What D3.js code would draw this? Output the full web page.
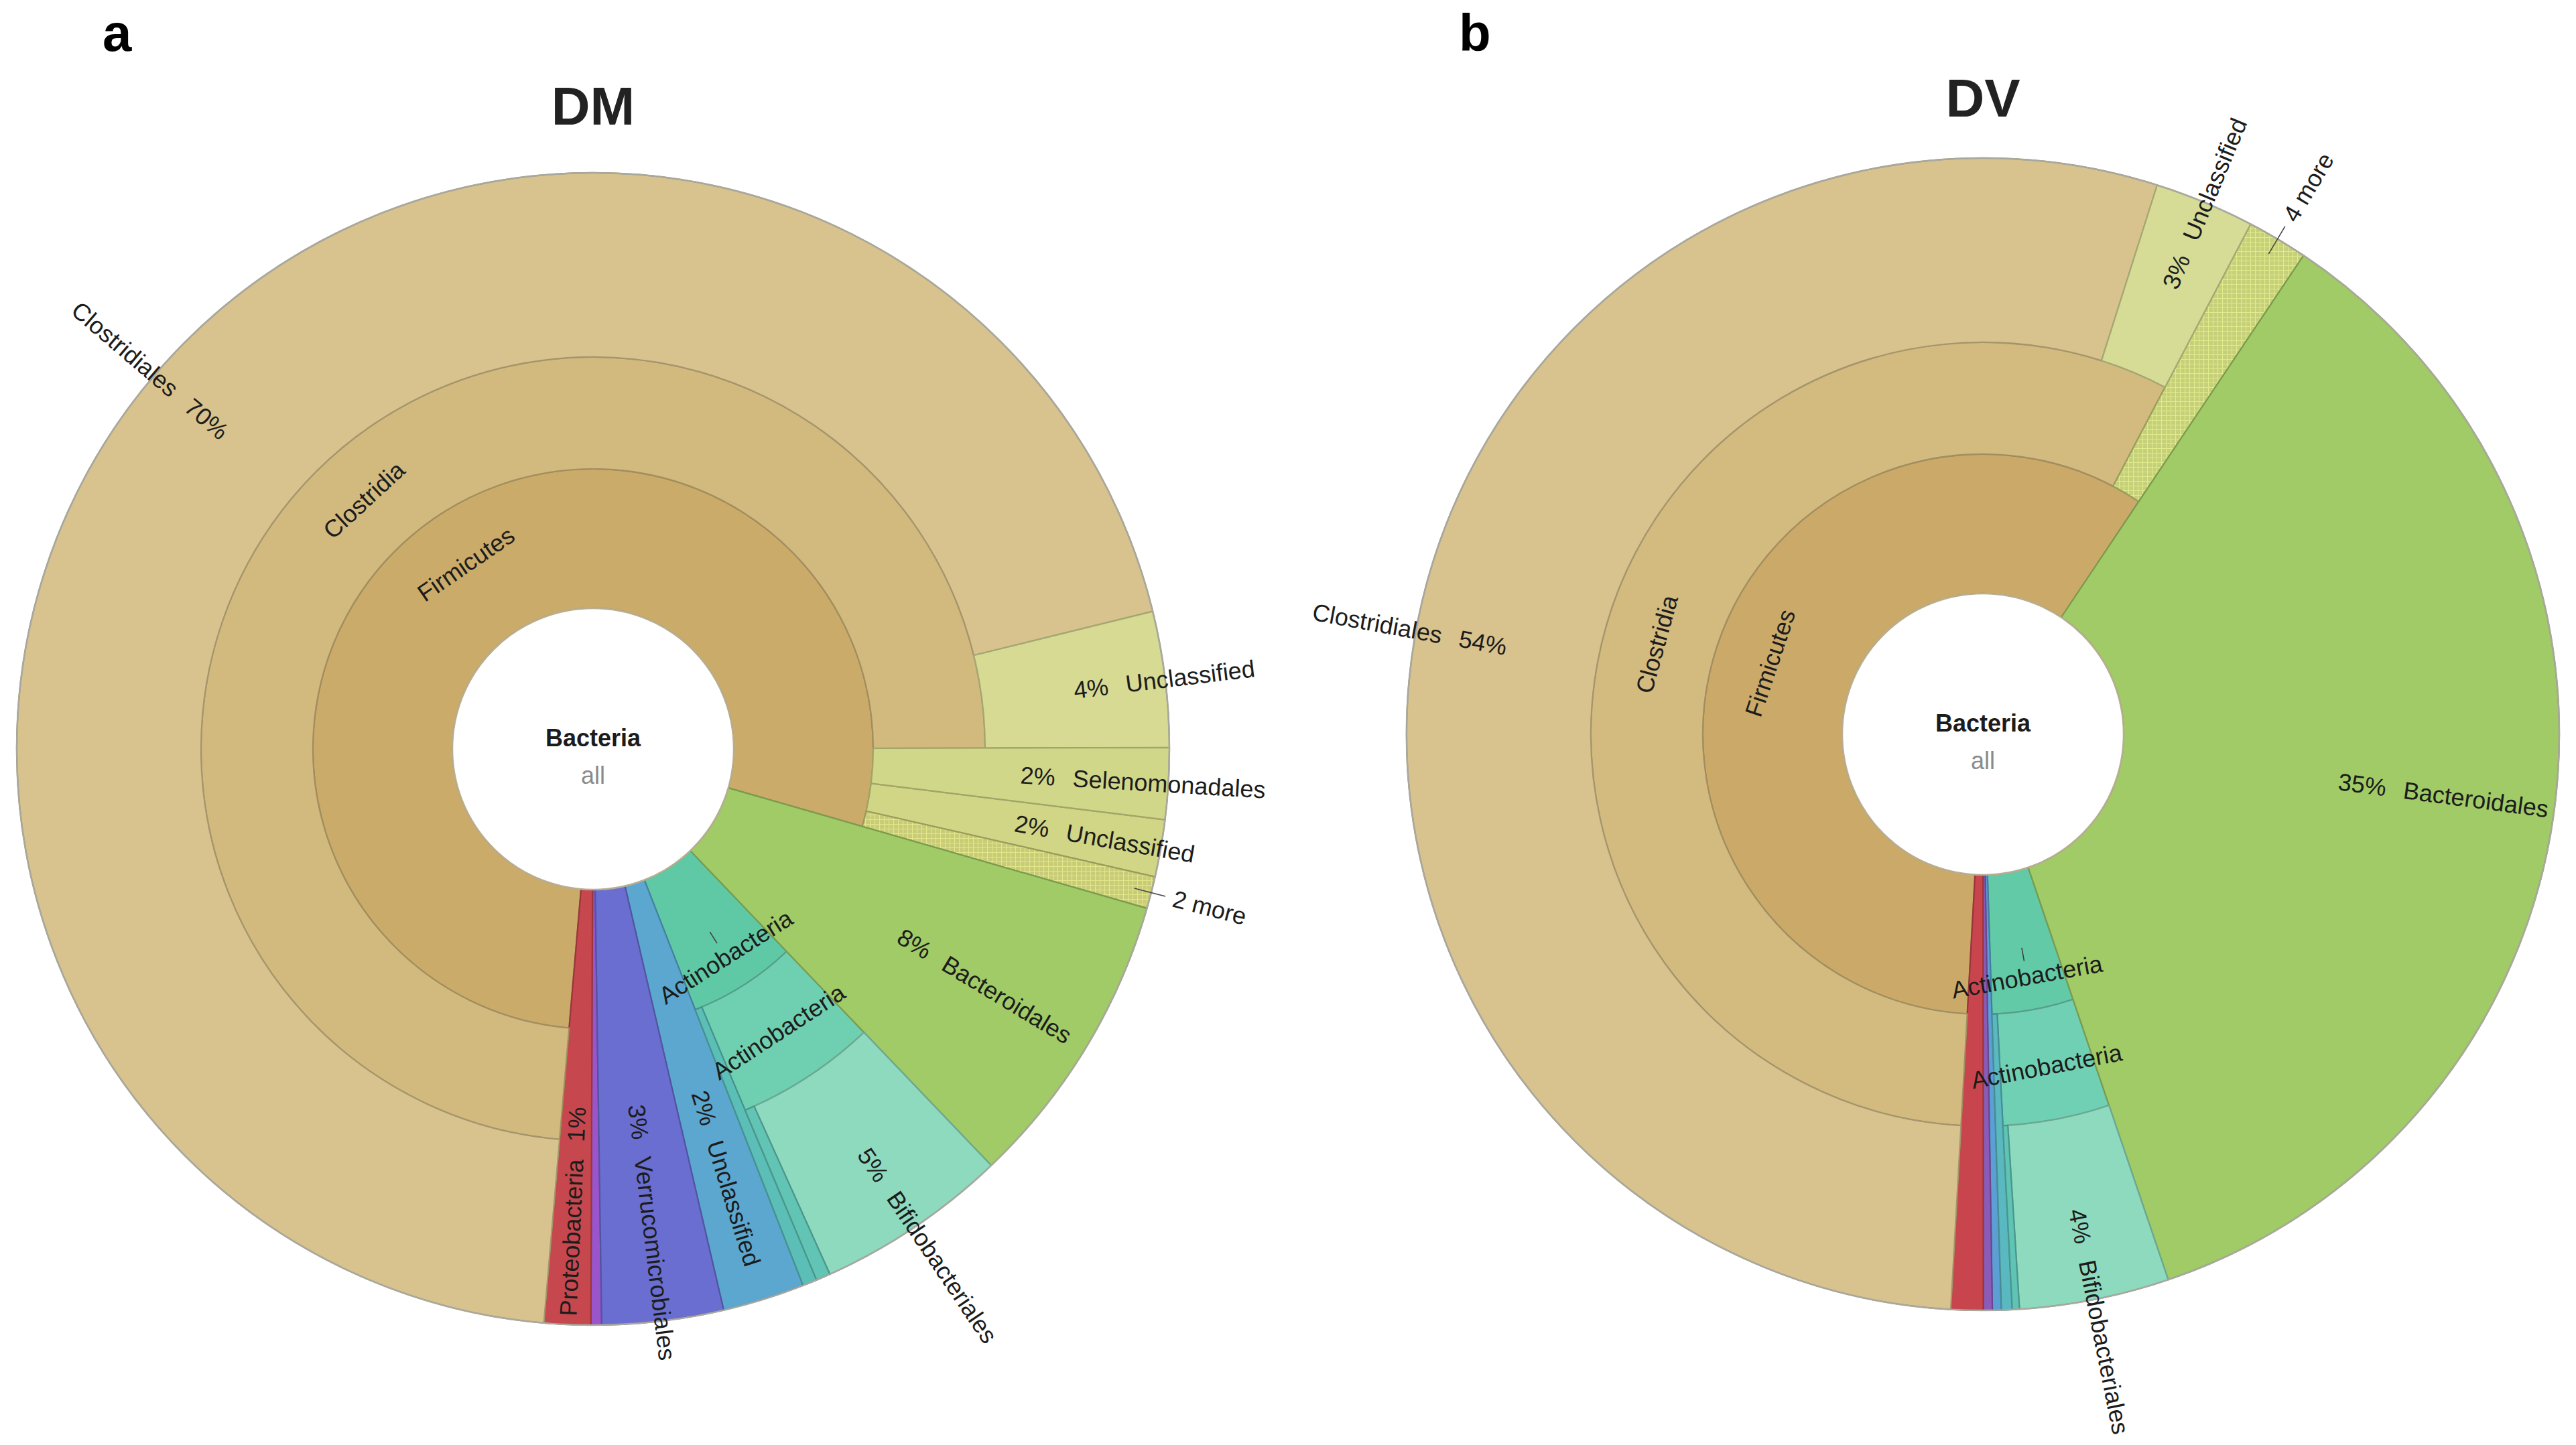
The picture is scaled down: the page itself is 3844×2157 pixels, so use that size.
<!DOCTYPE html>
<html><head><meta charset="utf-8">
<script src="https://cdn.jsdelivr.net/npm/d3@7"></script>
<style>
html,body{margin:0;padding:0;background:#fff;}
svg{display:block;font-family:"Liberation Sans",Arial,Helvetica,sans-serif;}
</style>
</head><body>
<svg id="chart" width="3844" height="2157"></svg>
<script>
// ================= DATA =================
const panelLetters = ["a", "b"];
const panelTitles = ["DM", "DV"];
const rootName = "Bacteria";
const rootSub = "all";

// DM sample: one entry per leaf wedge (phylum / class / order), value = % of reads
const dmPhylum = ["Firmicutes","Firmicutes","Firmicutes","Firmicutes","Firmicutes","Bacteroidetes","Actinobacteria","Actinobacteria","Actinobacteria","Unclassified","Verrucomicrobia","Other","Proteobacteria"];
const dmClass  = ["Clostridia","Clostridia","Negativicutes","Unclassified","2 more","Bacteroidia","Actinobacteria","Actinobacteria","Unclassified","","Verrucomicrobiae","",""];
const dmOrder  = ["Clostridiales","Unclassified","Selenomonadales","","","Bacteroidales","Bifidobacteriales","Coriobacteriales","","","Verrucomicrobiales","",""];
const dmValues = [69.8, 3.8, 2.0, 1.6, 0.9, 8.4, 5.4, 0.4, 0.4, 2.3, 3.4, 0.3, 1.3];

// DV sample
const dvPhylum = ["Firmicutes","Firmicutes","Firmicutes","Bacteroidetes","Actinobacteria","Actinobacteria","Actinobacteria","Unclassified","Other","Proteobacteria"];
const dvClass  = ["Clostridia","Clostridia","4 more","Bacteroidia","Actinobacteria","Actinobacteria","Unclassified","","",""];
const dvOrder  = ["Clostridiales","Unclassified","","Bacteroidales","Bifidobacteriales","Coriobacteriales","","","",""];
const dvValues = [54.0, 2.8, 1.7, 35.4, 4.2, 0.2, 0.3, 0.25, 0.25, 0.9];

// ================= STYLE / LAYOUT =================
const layout = [
  {cx: 885,  cy: 1118, start: 184.9, letterX: 153,  letterY: 76, titleY: 186},
  {cx: 2959, cy: 1096, start: 183.2, letterX: 2177, letterY: 76, titleY: 174}
];
const ringR = [0, 210, 418, 585, 860];   // radius at depth boundaries
const labelFont = 36;
const textCol = "#1c1c1c";

const colors = [
  { // DM
    "Firmicutes": "#CBAB69",
    "Firmicutes/Clostridia": "#D2B97E",
    "Firmicutes/Clostridia/Clostridiales": "#D8C38E",
    "Firmicutes/Clostridia/Unclassified": "#D6DA93",
    "Firmicutes/Negativicutes/Selenomonadales": "#D1D789",
    "Firmicutes/Unclassified": "#D0D685",
    "Firmicutes/2 more": "#C8CC78",
    "Bacteroidetes/Bacteroidia/Bacteroidales": "#A0CB66",
    "Actinobacteria": "#5FC9A5",
    "Actinobacteria/Actinobacteria": "#6FD0B1",
    "Actinobacteria/Actinobacteria/Bifidobacteriales": "#8DDABF",
    "Actinobacteria/Actinobacteria/Coriobacteriales": "#62C4B4",
    "Actinobacteria/Unclassified": "#5BBFB8",
    "Unclassified": "#5BA7D0",
    "Verrucomicrobia/Verrucomicrobiae/Verrucomicrobiales": "#6A6ED0",
    "Other": "#9A55CC",
    "Proteobacteria": "#C7474E"
  },
  { // DV
    "Firmicutes": "#CBAA69",
    "Firmicutes/Clostridia": "#D3BA7F",
    "Firmicutes/Clostridia/Clostridiales": "#D8C38E",
    "Firmicutes/Clostridia/Unclassified": "#D6DC96",
    "Firmicutes/4 more": "#C6D07A",
    "Bacteroidetes/Bacteroidia/Bacteroidales": "#A0CB66",
    "Actinobacteria": "#62CAA7",
    "Actinobacteria/Actinobacteria": "#70D0B3",
    "Actinobacteria/Actinobacteria/Bifidobacteriales": "#8DDABF",
    "Actinobacteria/Actinobacteria/Coriobacteriales": "#5FC4B5",
    "Actinobacteria/Unclassified": "#5AB8C0",
    "Unclassified": "#5B9FD4",
    "Other": "#8A5CB8",
    "Proteobacteria": "#C9454D"
  }
];

// ================= BUILD =================
function buildTree(ph, cl, or, vals) {
  const root = {name: rootName, children: []};
  ph.forEach((p, i) => {
    const path = [p, cl[i], or[i]].filter(s => s);
    let node = root;
    path.forEach(name => {
      let c = node.children.find(ch => ch.name === name);
      if (!c) { c = {name, children: []}; node.children.push(c); }
      node = c;
    });
    node.value = vals[i];
  });
  return root;
}

const svg = d3.select("#chart");
const defs = svg.append("defs");

function hatch(id, base) {
  const p = defs.append("pattern").attr("id", id).attr("patternUnits", "userSpaceOnUse")
    .attr("width", 7).attr("height", 7);
  p.append("rect").attr("width", 7).attr("height", 7).attr("fill", base);
  const light = d3.color(base).brighter(0.35).formatHex();
  p.append("path").attr("d", "M0,0.5H7M0.5,0V7").attr("stroke", light).attr("stroke-width", 1.2);
  return `url(#${id})`;
}

const datasets = [
  [dmPhylum, dmClass, dmOrder, dmValues],
  [dvPhylum, dvClass, dvOrder, dvValues]
];

datasets.forEach((ds, pi) => {
  const L = layout[pi];
  const cmap = colors[pi];
  const total = d3.sum(ds[3]);
  const root = d3.hierarchy(buildTree(...ds)).sum(d => d.value || 0);
  d3.partition().size([2 * Math.PI, 1])(root);
  const off = L.start * Math.PI / 180;
  const angle = d3.scaleLinear().domain([0, 2 * Math.PI]).range([off, off + 2 * Math.PI]);

  const nodes = root.descendants().filter(d => d.depth > 0);
  nodes.forEach(d => {
    d.key = d.ancestors().reverse().slice(1).map(a => a.data.name).join("/");
    let top = d;
    while (top.parent && top.parent.depth > 0 && top.parent.children.length === 1) top = top.parent;
    d.ri = ringR[top.depth];
    d.ro = d.children ? ringR[d.depth + 1] : ringR[ringR.length - 1];
    d.drawn = !d.children || d.children.length > 1;
    d.a0 = angle(d.x0); d.a1 = angle(d.x1);
    d.more = / more$/.test(d.data.name);
  });
  const drawn = nodes.filter(d => d.drawn);

  const g = svg.append("g").attr("transform", `translate(${L.cx},${L.cy})`);
  const arc = d3.arc().innerRadius(d => d.ri).outerRadius(d => d.ro)
    .startAngle(d => d.a0).endAngle(d => d.a1);

  g.selectAll("path.w").data(drawn).join("path").attr("class", "w")
    .attr("d", arc)
    .attr("fill", d => d.more ? hatch(`h${pi}`, cmap[d.key]) : cmap[d.key])
    .attr("stroke", d => d3.color(cmap[d.key]).darker(0.75).formatHex())
    .attr("stroke-width", 2.2)
    .attr("stroke-linejoin", "round");

  // outer rim and centre
  g.append("circle").attr("r", ringR[4]).attr("fill", "none").attr("stroke", "#A9A89E").attr("stroke-width", 2.5);
  g.append("circle").attr("r", ringR[1]).attr("fill", "#fff").attr("stroke", "#B8AE92").attr("stroke-width", 2.5);
  g.append("text").attr("y", -4).attr("text-anchor", "middle").attr("font-weight", "bold")
    .attr("font-size", 36).attr("fill", textCol).text(rootName);
  g.append("text").attr("y", 52).attr("text-anchor", "middle")
    .attr("font-size", 36).attr("fill", "#8a8a8a").text(rootSub);

  const deg = a => a * 180 / Math.PI;
  const norm = a => ((deg(a) % 360) + 360) % 360;

  // inner (non-leaf) labels, tangential
  const inner = drawn.filter(d => d.children);
  inner.forEach(d => {
    const am = (d.a0 + d.a1) / 2, ad = norm(am);
    const rIn = ringR[d.depth], rOut = ringR[d.depth + 1];
    const textW = d.data.name.length * 0.52 * labelFont;
    const overflow = textW > (d.a1 - d.a0) * (rIn + rOut) / 2;
    const frac = d.depth === 1 ? (overflow ? 0.76 : 0.6) : 0.52;
    const r = rIn + frac * (rOut - rIn);
    const x = r * Math.sin(am), y = -r * Math.cos(am);
    const rot = (ad > 90 && ad < 270) ? ad - 180 : ad;
    g.append("text").attr("transform", `translate(${x},${y}) rotate(${rot})`)
      .attr("text-anchor", "middle").attr("dominant-baseline", "central")
      .attr("font-size", labelFont).attr("fill", textCol).text(d.data.name);
    if (overflow && d.depth === 1) {
      const t0 = r - 44, t1 = r - 24;
      g.append("line")
        .attr("x1", t0 * Math.sin(am)).attr("y1", -t0 * Math.cos(am))
        .attr("x2", t1 * Math.sin(am)).attr("y2", -t1 * Math.cos(am))
        .attr("stroke", "#3a3a3a").attr("stroke-width", 1.5);
    }
  });

  // leaf labels, radial
  const leaves = drawn.filter(d => !d.children);
  leaves.forEach(d => {
    const am = (d.a0 + d.a1) / 2, ad = norm(am);
    const right = ad < 180;
    if (d.more) {
      const R = ringR[4];
      g.append("line")
        .attr("x1", (R - 26) * Math.sin(am)).attr("y1", -(R - 26) * Math.cos(am))
        .attr("x2", (R + 22) * Math.sin(am)).attr("y2", -(R + 22) * Math.cos(am))
        .attr("stroke", "#444").attr("stroke-width", 1.6);
      g.append("text").attr("transform", `rotate(${ad - 90})`)
        .attr("x", R + 34).attr("dominant-baseline", "central")
        .attr("font-size", labelFont).attr("fill", textCol).text(d.data.name);
      return;
    }
    const rMid = (d.ri + d.ro) / 2;
    if ((d.a1 - d.a0) * rMid < labelFont) return;
    const pct = Math.round(d.value / total * 100) + "%";
    const t = g.append("text")
      .attr("transform", `rotate(${right ? ad - 90 : ad + 90})`)
      .attr("x", right ? rMid : -rMid)
      .attr("text-anchor", right ? "start" : "end")
      .attr("dominant-baseline", "central")
      .attr("font-size", labelFont).attr("fill", textCol);
    if (right) {
      t.append("tspan").text(pct);
      t.append("tspan").attr("dx", 26).text(d.data.name);
    } else {
      t.append("tspan").text(d.data.name);
      t.append("tspan").attr("dx", 26).text(pct);
    }
  });

  // title and panel letter
  svg.append("text").attr("x", L.cx).attr("y", L.titleY).attr("text-anchor", "middle")
    .attr("font-weight", "bold").attr("font-size", 80).attr("fill", "#222").text(panelTitles[pi]);
  svg.append("text").attr("x", L.letterX).attr("y", L.letterY)
    .attr("font-weight", "bold").attr("font-size", 78).attr("fill", "#000").text(panelLetters[pi]);
});
</script>
</body></html>
